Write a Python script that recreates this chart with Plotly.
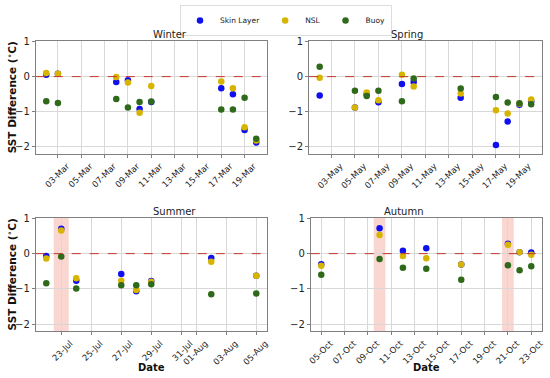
import plotly.graph_objects as go
from datetime import datetime, timedelta

YEAR = 2020
# ---------------- data ----------------
winter_dates = ["03-02", "03-03", "03-08", "03-09", "03-10", "03-11", "03-17", "03-18", "03-19", "03-20"]
winter_skin = [0.05, 0.08, -0.15, -0.10, -0.92, -0.72, -0.33, -0.50, -1.52, -1.88]
winter_nsl = [0.10, 0.08, -0.01, -0.17, -1.03, -0.27, -0.14, -0.33, -1.44, -1.82]
winter_buoy = [-0.70, -0.75, -0.64, -0.88, -0.72, -0.71, -0.94, -0.94, -0.60, -1.77]

spring_dates = ["05-02", "05-05", "05-06", "05-07", "05-09", "05-10", "05-14", "05-17", "05-18", "05-19", "05-20"]
spring_skin = [-0.54, -0.88, -0.50, -0.73, -0.21, -0.15, -0.60, -1.95, -1.28, -0.80, -0.70]
spring_nsl = [-0.03, -0.88, -0.45, -0.67, 0.05, -0.28, -0.48, -0.96, -1.05, -0.77, -0.65]
spring_buoy = [0.28, -0.40, -0.55, -0.40, -0.70, -0.05, -0.34, -0.58, -0.74, -0.76, -0.79]

summer_dates = ["07-22", "07-23", "07-24", "07-27", "07-28", "07-29", "08-02", "08-05"]
summer_skin = [-0.07, 0.71, -0.77, -0.58, -1.07, -0.78, -0.12, -0.63]
summer_nsl = [-0.14, 0.66, -0.70, -0.77, -1.03, -0.80, -0.23, -0.63]
summer_buoy = [-0.84, -0.08, -0.99, -0.90, -0.90, -0.87, -1.15, -1.13]

autumn_dates = ["10-05", "10-10", "10-12", "10-14", "10-17", "10-21", "10-22", "10-23"]
autumn_skin = [-0.30, 0.72, 0.08, 0.15, -0.31, 0.28, 0.04, 0.03]
autumn_nsl = [-0.34, 0.53, -0.07, -0.13, -0.31, 0.25, 0.04, -0.03]
autumn_buoy = [-0.60, -0.15, -0.40, -0.43, -0.74, -0.33, -0.47, -0.36]

winter_ticks = ["03-03", "03-05", "03-07", "03-09", "03-11", "03-13", "03-15", "03-17", "03-19"]
winter_ticktext = ["03-Mar", "05-Mar", "07-Mar", "09-Mar", "11-Mar", "13-Mar", "15-Mar", "17-Mar", "19-Mar"]
spring_ticks = ["05-03", "05-05", "05-07", "05-09", "05-11", "05-13", "05-15", "05-17", "05-19"]
spring_ticktext = ["03-May", "05-May", "07-May", "09-May", "11-May", "13-May", "15-May", "17-May", "19-May"]
summer_ticks = ["07-23", "07-25", "07-27", "07-29", "07-31", "08-01", "08-03", "08-05"]
summer_ticktext = ["23-Jul", "25-Jul", "27-Jul", "29-Jul", "31-Jul", "01-Aug", "03-Aug", "05-Aug"]
autumn_ticks = ["10-05", "10-07", "10-09", "10-11", "10-13", "10-15", "10-17", "10-19", "10-21", "10-23"]
autumn_ticktext = ["05-Oct", "07-Oct", "09-Oct", "11-Oct", "13-Oct", "15-Oct", "17-Oct", "19-Oct", "21-Oct", "23-Oct"]

summer_highlight = ["07-23"]
autumn_highlight = ["10-10", "10-21"]

series_names = ["Skin Layer", "NSL", "Buoy"]
colors = ["#1010ee", "#d6b400", "#2f6a1a"]
y_title = "<b>SST Difference (<sup>\u2218</sup>C)</b>"
x_title = "<b>Date</b>"


def d(s):
    return datetime.strptime(f"{YEAR}-{s}", "%Y-%m-%d")


panels = [
    dict(title="Winter", dates=winter_dates, vals=[winter_skin, winter_nsl, winter_buoy],
         ticks=winter_ticks, tt=winter_ticktext, hl=[], xd=[0.065, 0.485], yd=[0.593, 0.892], left=True, bottom=False),
    dict(title="Spring", dates=spring_dates, vals=[spring_skin, spring_nsl, spring_buoy],
         ticks=spring_ticks, tt=spring_ticktext, hl=[], xd=[0.562, 0.985], yd=[0.593, 0.892], left=False, bottom=False),
    dict(title="Summer", dates=summer_dates, vals=[summer_skin, summer_nsl, summer_buoy],
         ticks=summer_ticks, tt=summer_ticktext, hl=summer_highlight, xd=[0.065, 0.485], yd=[0.124, 0.424], left=True, bottom=True),
    dict(title="Autumn", dates=autumn_dates, vals=[autumn_skin, autumn_nsl, autumn_buoy],
         ticks=autumn_ticks, tt=autumn_ticktext, hl=autumn_highlight, xd=[0.565, 0.985], yd=[0.124, 0.424], left=False, bottom=True),
]

fig = go.Figure()
FONT = "DejaVu Sans"
W, H = 550, 378
layout = dict(
    width=W, height=H, margin=dict(l=0, r=0, t=0, b=0, autoexpand=False),
    paper_bgcolor="white", plot_bgcolor="white",
    font=dict(family=FONT, size=10, color="#222"),
    showlegend=True,
    legend=dict(orientation="h", x=0.52, xanchor="center", y=1 - 5 / H, yanchor="top",
                bordercolor="#dddddd", borderwidth=1, font=dict(size=7.5, family=FONT),
                itemwidth=30, tracegroupgap=0),
)
shapes = []
annotations = []

for i, p in enumerate(panels):
    k = "" if i == 0 else str(i + 1)
    xa, ya = f"x{k}", f"y{k}"
    xs = [d(s) for s in p["dates"]]
    for j, (name, vals) in enumerate(zip(series_names, p["vals"])):
        fig.add_trace(go.Scatter(
            x=xs, y=vals, mode="markers", name=name,
            marker=dict(color=colors[j], size=6.5, line=dict(width=0)),
            xaxis=xa, yaxis=ya, showlegend=(i == 0), legendgroup=name))
    span = (max(xs) - min(xs)).total_seconds()
    pad = timedelta(seconds=span * 0.05)
    xr = [min(xs) - pad, max(xs) + pad]
    layout[f"xaxis{k}"] = dict(
        domain=p["xd"], anchor=ya, type="date", range=xr, automargin=False,
        tickvals=[d(t) for t in p["ticks"]], ticktext=p["tt"], tickangle=-45,
        tickfont=dict(size=8.5, family=FONT, color="#222"), ticklabelshift=9,
        showgrid=True, gridcolor="#d8d8d8", gridwidth=1,
        showline=True, linecolor="#808080", linewidth=1, mirror=True,
        ticks="outside", ticklen=3, tickcolor="#808080", zeroline=False,
    )
    layout[f"yaxis{k}"] = dict(
        domain=p["yd"], anchor=xa, range=[-2.2, 1.02], automargin=False,
        tickvals=[-2, -1, 0, 1], ticktext=["\u22122", "\u22121", "0", "1"],
        tickfont=dict(size=10, family=FONT, color="#222"),
        showgrid=True, gridcolor="#d8d8d8", gridwidth=1,
        showline=True, linecolor="#808080", linewidth=1, mirror=True,
        ticks="outside", ticklen=3, tickcolor="#808080", zeroline=False,
    )
    if p["left"]:
        annotations.append(dict(text=y_title, xref="paper", yref="paper", x=11 / W,
                                y=(p["yd"][0] + p["yd"][1]) / 2, xanchor="center", yanchor="middle",
                                textangle=-90, showarrow=False,
                                font=dict(size=10.5, family=FONT, color="#111")))
    if p["bottom"]:
        annotations.append(dict(text=x_title, xref="paper", yref="paper",
                                x=(p["xd"][0] + p["xd"][1]) / 2, y=1 - 367 / H,
                                xanchor="center", yanchor="middle", showarrow=False,
                                font=dict(size=10, family=FONT, color="#111")))
    # zero reference line
    shapes.append(dict(type="line", xref=f"{xa} domain", yref=ya, x0=0, x1=1, y0=0, y1=0,
                       line=dict(color="#c0392b", width=1, dash="dash"), layer="above"))
    for h in p["hl"]:
        c = d(h)
        shapes.append(dict(type="rect", xref=xa, yref=f"{ya} domain",
                           x0=c - timedelta(hours=12), x1=c + timedelta(hours=12), y0=0, y1=1,
                           fillcolor="rgba(240,128,110,0.32)", line=dict(width=0), layer="below"))
    annotations.append(dict(text=p["title"], xref="paper", yref="paper",
                            x=(p["xd"][0] + p["xd"][1]) / 2, y=p["yd"][1], yanchor="bottom",
                            showarrow=False, font=dict(size=10, family=FONT, color="#222"), yshift=-1))

layout["shapes"] = shapes
layout["annotations"] = annotations
fig.update_layout(**layout)
fig.write_html("out.html", config={"displayModeBar": False},
               post_script="document.body.style.margin='0px';document.body.style.padding='0px';")
